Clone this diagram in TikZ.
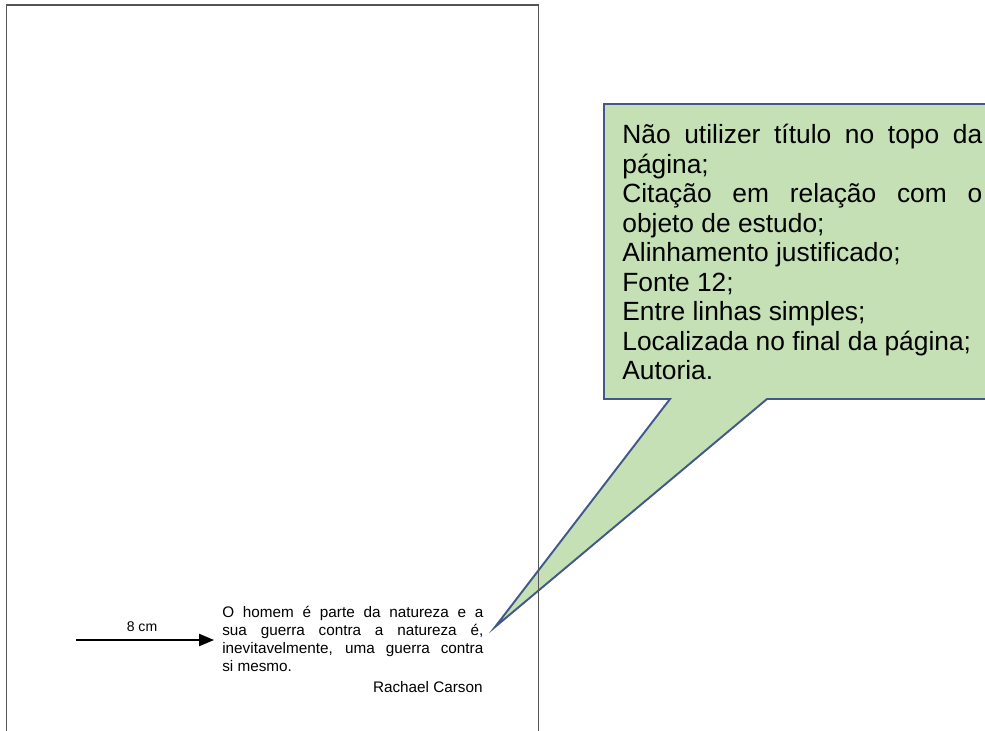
\documentclass[tikz,border=0pt]{standalone}
\usepackage{fontspec}
\setmainfont{Liberation Sans}
\usetikzlibrary{arrows.meta}
\definecolor{calloutfill}{HTML}{C5E0B4}
\definecolor{calloutline}{HTML}{41598A}
\definecolor{pageline}{HTML}{555555}
\newcommand{\nohyph}{\hyphenpenalty=10000\exhyphenpenalty=10000\tolerance=9000\emergencystretch=2em}
\tikzset{
  pageedge/.style={draw=pageline, line width=1.1pt},
  callout/.style={draw=calloutline, fill=calloutfill, line width=1.1pt, line join=miter},
  notes/.style={inner sep=0pt, anchor=north west, text width=7.2cm, align=justify,
    font=\fontsize{15}{16.8}\selectfont\nohyph},
  quote/.style={inner sep=0pt, anchor=north west, text width=5.22cm, align=justify,
    font=\fontsize{8.7}{10.2}\selectfont\nohyph},
  author/.style={inner sep=0pt, anchor=base east, font=\fontsize{8.7}{10.2}\selectfont},
  measure/.style={inner sep=0pt, anchor=base, font=\fontsize{8}{9}\selectfont},
  widtharrow/.style={-{Triangle[length=8.5pt,width=7pt]}, line width=0.7pt, black}
}
\begin{document}
\begin{tikzpicture}[x=0.02cm,y=-0.02cm]
\useasboundingbox (0,0) rectangle (985,731);
\begin{scope}
\clip (0,0) rectangle (985,731);
% callout
\coordinate (tip) at (495,627);
\draw[callout] (604,104) -- (1000,104) -- (1000,399) -- (767,399) -- (tip) -- (670,399) -- (604,399) -- cycle;
% page
\draw[pageedge] (6.5,760) -- (6.5,5) -- (538.5,5) -- (538.5,760);
\end{scope}
% callout text
\node[notes] (rules) at (622,124) {Não utilizer título no topo da\linebreak página;\\
Citação em relação com o\linebreak objeto de estudo;\\
Alinhamento justificado;\\
Fonte 12;\\
Entre linhas simples;\\
Localizada no final da página;\\
Autoria.};
% quote
\node[quote] (citation) at (222,606) {O homem é parte da natureza e a\linebreak sua guerra contra a natureza é,\linebreak inevitavelmente, uma guerra contra\linebreak si mesmo.};
\node[author] (carson) at (483,692) {Rachael Carson};
% measure arrow
\coordinate (arrowstart) at (76,640);
\coordinate (arrowend) at (214,640);
\draw[widtharrow] (arrowstart) -- (arrowend);
\node[measure] (eightcm) at (142,631.5) {8 cm};
\end{tikzpicture}
\end{document}
